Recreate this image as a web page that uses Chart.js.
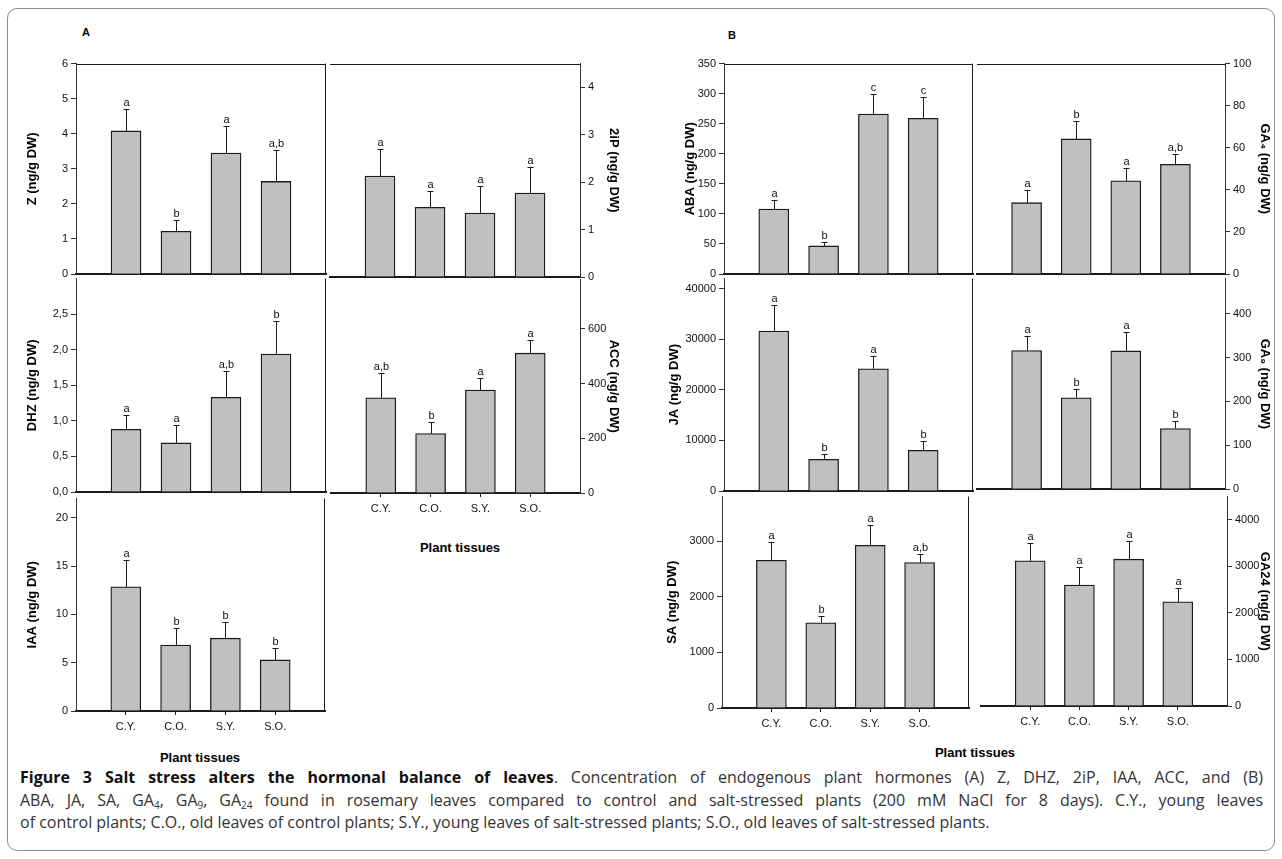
<!DOCTYPE html>
<html>
<head>
<meta charset="utf-8">
<script src="https://cdn.jsdelivr.net/npm/chart.js@4"></script>
<style>
  body { margin: 0; background: #fff; width: 1282px; height: 859px; position: relative; overflow: hidden; font-family: "Liberation Sans", Arial, sans-serif; }
  .frame { position: absolute; left: 7px; top: 8px; width: 1266px; height: 841px; border: 1px solid #8c8c8c; border-radius: 10px; }
  canvas { position: absolute; }
  .lbl { position: absolute; font-weight: bold; font-size: 13px; color: #000; transform: translate(-50%, -50%); white-space: nowrap; }
  .tag { position: absolute; font-weight: bold; font-size: 11px; color: #000; transform: translate(-50%, -50%); }
  .cap { position: absolute; left: 20px; width: 1243px; font-family: "Open Sans", sans-serif; font-size: 16px; color: #333; height: 22px; line-height: 22px; white-space: nowrap; }
  .cap.j { text-align: justify; text-align-last: justify; white-space: normal; }
  .cap b { color: #111; }
  .cap sub { font-size: 10px; vertical-align: -3px; line-height: 0; }
</style>
</head>
<body>
<div class="frame"></div>
<div class="tag" style="left:86px;top:32px">A</div>
<div class="tag" style="left:732px;top:35px">B</div>
<div class="lbl" style="left:460px;top:547px">Plant tissues</div>
<div class="lbl" style="left:200px;top:757px">Plant tissues</div>
<div class="lbl" style="left:975px;top:752px">Plant tissues</div>
<div class="cap j" style="top:766px"><b>Figure 3 Salt stress alters the hormonal balance of leaves</b>. Concentration of endogenous plant hormones (A) Z, DHZ, 2iP, IAA, ACC, and (B)</div>
<div class="cap j" style="top:789px">ABA, JA, SA, GA<sub>4</sub>, GA<sub>9</sub>, GA<sub>24</sub> found in rosemary leaves compared to control and salt-stressed plants (200 mM NaCl for 8 days). C.Y., young leaves</div>
<div class="cap" style="top:811px">of control plants; C.O., old leaves of control plants; S.Y., young leaves of salt-stressed plants; S.O., old leaves of salt-stressed plants.</div>
<script>
// tissues: young / old leaves, control / salt stressed
const tissues = ['', 'C.Y.', 'C.O.', 'S.Y.', 'S.O.', ''];

// panel A
const zVals = [4.08, 1.22, 3.45, 2.64];
const zSe = [0.63, 0.33, 0.76, 0.89];
const zSig = ['a', 'b', 'a', 'a,b'];
const zTicks = [0, 1, 2, 3, 4, 5, 6];

const ipVals = [2.13, 1.47, 1.35, 1.77];
const ipSe = [0.57, 0.35, 0.56, 0.56];
const ipSig = ['a', 'a', 'a', 'a'];
const ipTicks = [0, 1, 2, 3, 4];

const dhzVals = [0.88, 0.69, 1.33, 1.94];
const dhzSe = [0.20, 0.25, 0.37, 0.46];
const dhzSig = ['a', 'a', 'a,b', 'b'];
const dhzTicks = [0, 0.5, 1, 1.5, 2, 2.5];
const dhzTickLabels = ['0,0', '0,5', '1,0', '1,5', '2,0', '2,5'];

const accVals = [348, 217, 376, 511];
const accSe = [89, 41, 43, 48];
const accSig = ['a,b', 'b', 'a', 'a'];
const accTicks = [0, 200, 400, 600];

const iaaVals = [12.87, 6.83, 7.54, 5.29];
const iaaSe = [2.80, 1.80, 1.71, 1.23];
const iaaSig = ['a', 'b', 'b', 'b'];
const iaaTicks = [0, 5, 10, 15, 20];

// panel B
const abaVals = [108, 46.7, 266, 259];
const abaSe = [15, 7, 33, 36];
const abaSig = ['a', 'b', 'c', 'c'];
const abaTicks = [0, 50, 100, 150, 200, 250, 300, 350];

const ga4Vals = [33.9, 64.2, 44.3, 52.1];
const ga4Se = [5.8, 8.6, 5.9, 4.7];
const ga4Sig = ['a', 'b', 'a', 'a,b'];
const ga4Ticks = [0, 20, 40, 60, 80, 100];

const jaVals = [31630, 6260, 24180, 8040];
const jaSe = [5210, 1120, 2510, 1780];
const jaSig = ['a', 'b', 'a', 'b'];
const jaTicks = [0, 10000, 20000, 30000, 40000];

const ga9Vals = [316, 208, 315, 138];
const ga9Se = [34, 20, 44, 16];
const ga9Sig = ['a', 'b', 'a', 'b'];
const ga9Ticks = [0, 100, 200, 300, 400];

const saVals = [2656, 1533, 2923, 2614];
const saSe = [327, 113, 363, 161];
const saSig = ['a', 'b', 'a', 'a,b'];
const saTicks = [0, 1000, 2000, 3000];

const ga24Vals = [3120, 2599, 3155, 2239];
const ga24Se = [387, 387, 387, 303];
const ga24Sig = ['a', 'a', 'a', 'a'];
const ga24Ticks = [0, 1000, 2000, 3000, 4000];

const FONT = 'Liberation Sans';
const INK = '#1a1a1a';
Chart.defaults.font.family = FONT;

// box = [left, top, right, bottom] of the plot area on the page
const panels = [
  { title: 'Z (ng/g DW)', vals: zVals, se: zSe, sig: zSig, ticks: zTicks, max: 6, side: 'left', box: [76, 62, 326, 274], titleX: 33, top: true },
  { title: '2iP (ng/g DW)', vals: ipVals, se: ipSe, sig: ipSig, ticks: ipTicks, max: 4.5, side: 'right', box: [330, 62, 580, 277], titleX: 613, top: true },
  { title: 'DHZ (ng/g DW)', vals: dhzVals, se: dhzSe, sig: dhzSig, ticks: dhzTicks, tickLabels: dhzTickLabels, max: 3, side: 'left', box: [76, 277, 326, 492], titleX: 33 },
  { title: 'ACC (ng/g DW)', vals: accVals, se: accSe, sig: accSig, ticks: accTicks, max: 780, side: 'right', box: [330, 278, 580, 493], titleX: 613, xlab: true },
  { title: 'IAA (ng/g DW)', vals: iaaVals, se: iaaSe, sig: iaaSig, ticks: iaaTicks, max: 22, side: 'left', box: [76, 497, 326, 711], titleX: 33, xlab: true },
  { title: 'ABA (ng/g DW)', vals: abaVals, se: abaSe, sig: abaSig, ticks: abaTicks, max: 350, side: 'left', box: [724, 62, 973, 274], titleX: 691, top: true },
  { title: 'GA₄ (ng/g DW)', vals: ga4Vals, se: ga4Se, sig: ga4Sig, ticks: ga4Ticks, max: 100, side: 'right', box: [977, 62, 1225, 274], titleX: 1264, top: true },
  { title: 'JA (ng/g DW)', vals: jaVals, se: jaSe, sig: jaSig, ticks: jaTicks, max: 42000, side: 'left', box: [724, 277, 973, 491], titleX: 675 },
  { title: 'GA₉ (ng/g DW)', vals: ga9Vals, se: ga9Se, sig: ga9Sig, ticks: ga9Ticks, max: 480, side: 'right', box: [977, 277, 1225, 489], titleX: 1264 },
  { title: 'SA (ng/g DW)', vals: saVals, se: saSe, sig: saSig, ticks: saTicks, max: 3800, side: 'left', box: [722, 495, 970, 708], titleX: 673, xlab: true },
  { title: 'GA24 (ng/g DW)', vals: ga24Vals, se: ga24Se, sig: ga24Sig, ticks: ga24Ticks, max: 4500, side: 'right', box: [980, 495, 1227, 706], titleX: 1264, xlab: true }
];

// frame lines, error bars and significance letters
const deco = {
  id: 'deco',
  afterDatasetsDraw(chart) {
    const p = chart.options.plugins.deco.panel;
    const { ctx, chartArea: a } = chart;
    const y = chart.scales.y;
    ctx.save();
    ctx.strokeStyle = INK;
    ctx.lineWidth = 1;
    ctx.beginPath();
    if (p.top) {
      ctx.moveTo(a.left, Math.round(a.top) + 0.5);
      ctx.lineTo(a.right, Math.round(a.top) + 0.5);
    }
    if (p.side === 'left') {
      ctx.moveTo(Math.round(a.right) - 0.5, a.top);
      ctx.lineTo(Math.round(a.right) - 0.5, a.bottom);
    }
    ctx.stroke();

    const meta = chart.getDatasetMeta(0);
    ctx.font = '11px ' + FONT;
    ctx.fillStyle = '#111';
    ctx.textAlign = 'center';
    ctx.textBaseline = 'alphabetic';
    p.vals.forEach((v, i) => {
      const bar = meta.data[i + 1];
      const x = Math.round(bar.x) + 0.5;
      const yt = Math.round(y.getPixelForValue(v + p.se[i])) + 0.5;
      ctx.beginPath();
      ctx.moveTo(x, bar.y);
      ctx.lineTo(x, yt);
      ctx.moveTo(x - 3, yt);
      ctx.lineTo(x + 3, yt);
      ctx.stroke();
      ctx.fillText(p.sig[i], x, yt - 4);
    });
    ctx.restore();
  }
};

function makePanel(p) {
  const lh = 13 * 1.2;
  const padTop = 8;
  const xh = p.xlab ? 24 : 10;
  let cLeft, cRight, axisW;
  if (p.side === 'left') {
    cLeft = Math.round(p.titleX - lh / 2);
    cRight = p.box[2] + 4;
    axisW = p.box[0] - cLeft;
  } else {
    cLeft = p.box[0] - 4;
    cRight = Math.round(p.titleX + lh / 2);
    axisW = cRight - p.box[2];
  }
  const cTop = p.box[1] - padTop;
  const cBot = p.box[3] + xh;
  const cv = document.createElement('canvas');
  cv.width = cRight - cLeft;
  cv.height = cBot - cTop;
  cv.style.left = cLeft + 'px';
  cv.style.top = cTop + 'px';
  cv.style.width = cv.width + 'px';
  cv.style.height = cv.height + 'px';
  document.body.appendChild(cv);

  new Chart(cv.getContext('2d'), {
    type: 'bar',
    data: {
      labels: tissues,
      datasets: [{
        data: [null, ...p.vals, null],
        backgroundColor: '#c0c0c0',
        borderColor: INK,
        borderWidth: 1.3,
        barThickness: 30
      }]
    },
    options: {
      responsive: false,
      animation: false,
      devicePixelRatio: 1,
      layout: { padding: { top: padTop, bottom: 0, left: p.side === 'left' ? 0 : 4, right: p.side === 'left' ? 4 : 0 } },
      plugins: { legend: { display: false }, tooltip: { enabled: false }, deco: { panel: p } },
      scales: {
        x: {
          offset: false,
          grid: {
            drawOnChartArea: false, offset: false, drawTicks: !!p.xlab, tickLength: 4,
            tickColor: c => (c.index >= 1 && c.index <= 4) ? INK : 'rgba(0,0,0,0)'
          },
          border: { color: INK, width: 2 },
          ticks: { display: !!p.xlab, font: { size: 11 }, color: '#111', padding: 5, maxRotation: 0, autoSkip: false },
          afterFit: s => { s.height = xh; }
        },
        y: {
          position: p.side,
          min: 0,
          max: p.max,
          afterBuildTicks: s => { s.ticks = p.ticks.map(v => ({ value: v })); },
          ticks: {
            font: { size: 11 }, color: '#111', padding: 3,
            callback: v => p.tickLabels ? p.tickLabels[p.ticks.indexOf(v)] : String(v)
          },
          grid: { drawOnChartArea: false, tickLength: 5, tickColor: '#333' },
          border: { color: '#333', width: 1 },
          title: { display: true, text: p.title, font: { size: 13, weight: 'bold' }, color: '#000', padding: 0 },
          afterFit: s => { s.width = axisW; }
        }
      }
    },
    plugins: [deco]
  });
}

panels.forEach(makePanel);
</script>
</body>
</html>
